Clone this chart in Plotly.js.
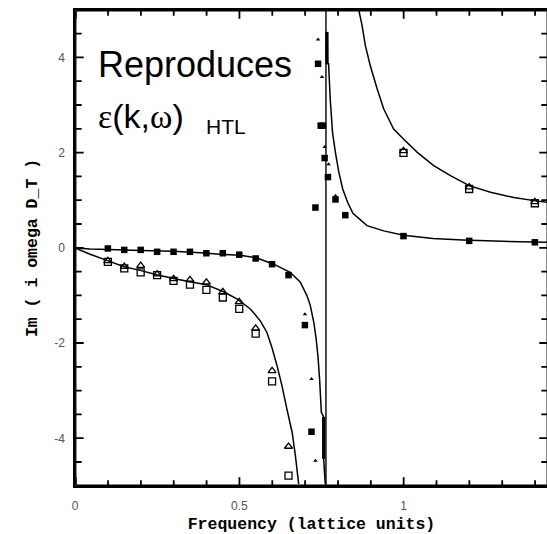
<!DOCTYPE html>
<html>
<head>
<meta charset="utf-8">
<script src="https://cdn.plot.ly/plotly-3.0.1.min.js"></script>
<style>
html,body{margin:0;padding:0;overflow:hidden;background:#fff;}
#chart{width:560px;height:534px;}
</style>
</head>
<body>
<div id="chart"></div>
<script>
// ---- data ----
var poleX = [0.764, 0.764];
var poleY = [-5, 5];

// lower theory curve (left branch)
var curveA_leftX = [0, 0.046, 0.10, 0.20, 0.30, 0.381, 0.442, 0.503, 0.554, 0.605, 0.655, 0.686, 0.706, 0.716, 0.727, 0.734, 0.740, 0.745, 0.750, 0.757, 0.757, 0.762];
var curveA_leftY = [0, -0.02, -0.03, -0.05, -0.07, -0.10, -0.13, -0.15, -0.21, -0.34, -0.51, -0.72, -1.00, -1.20, -1.56, -1.90, -2.30, -2.80, -3.45, -3.55, -4.43, -4.96];
// lower theory curve (right branch)
var curveA_rightX = [0.768, 0.769, 0.772, 0.777, 0.784, 0.793, 0.803, 0.815, 0.830, 0.846, 0.889, 0.94, 1.00, 1.09, 1.18, 1.30, 1.44];
var curveA_rightY = [4.54, 3.87, 3.87, 3.13, 2.43, 2.00, 1.60, 1.24, 0.96, 0.73, 0.47, 0.36, 0.27, 0.20, 0.17, 0.14, 0.12];
// thick parts of the curve close to the pole
var barTopX = [0.767, 0.767];
var barTopY = [4.54, 3.87];
var barBotX = [0.757, 0.757];
var barBotY = [-3.55, -4.43];

// upper theory curve (left branch)
var curveB_leftX = [0, 0.046, 0.097, 0.147, 0.198, 0.249, 0.30, 0.35, 0.40, 0.452, 0.493, 0.534, 0.564, 0.584, 0.60, 0.615, 0.630, 0.645, 0.661, 0.671, 0.681];
var curveB_leftY = [0, -0.13, -0.26, -0.39, -0.47, -0.56, -0.64, -0.71, -0.77, -0.92, -1.07, -1.28, -1.53, -1.77, -2.10, -2.47, -2.89, -3.38, -3.87, -4.36, -4.96];
// upper theory curve (right branch)
var curveB_rightX = [0.864, 0.874, 0.884, 0.899, 0.92, 0.94, 0.97, 1.00, 1.042, 1.092, 1.143, 1.20, 1.265, 1.336, 1.402, 1.44];
var curveB_rightY = [5.0, 4.67, 4.25, 3.83, 3.34, 2.92, 2.50, 2.29, 2.01, 1.73, 1.52, 1.31, 1.17, 1.06, 0.99, 0.96];

// filled squares
var sqFilledX = [0.10, 0.15, 0.20, 0.25, 0.30, 0.35, 0.40, 0.45, 0.50, 0.55, 0.60, 0.65, 0.70, 0.72, 0.732, 0.74, 0.748, 0.755, 0.76, 0.77, 0.793, 0.823, 1.0, 1.2, 1.4];
var sqFilledY = [-0.01, -0.04, -0.04, -0.08, -0.08, -0.08, -0.11, -0.11, -0.14, -0.22, -0.34, -0.57, -1.62, -3.86, 0.85, 3.87, 2.57, 2.57, 1.89, 1.49, 1.02, 0.69, 0.25, 0.15, 0.12];
// small filled triangles
var triSmallX = [0.70, 0.72, 0.732, 0.74, 0.752, 0.76, 0.772, 0.793];
var triSmallY = [-1.39, -2.75, -4.47, 4.38, 3.59, 2.12, 1.76, 1.10];
// open triangles
var triOpenX = [0.10, 0.15, 0.20, 0.25, 0.30, 0.35, 0.40, 0.45, 0.50, 0.55, 0.60, 0.65, 1.0, 1.2, 1.4];
var triOpenY = [-0.27, -0.39, -0.37, -0.55, -0.65, -0.67, -0.72, -0.92, -1.13, -1.69, -2.58, -4.17, 2.04, 1.28, 0.97];
// open squares
var sqOpenX = [0.10, 0.15, 0.20, 0.25, 0.30, 0.35, 0.40, 0.45, 0.50, 0.55, 0.60, 0.65, 1.0, 1.2, 1.4];
var sqOpenY = [-0.29, -0.43, -0.51, -0.57, -0.69, -0.77, -0.88, -1.04, -1.28, -1.80, -2.80, -4.78, 2.00, 1.24, 0.94];

// tick positions and labels
var xMajorTicks = [0, 0.5, 1];
var xTickLabels = ['0', '0.5', '1'];
var xMinorTicks = [0.1, 0.2, 0.3, 0.4, 0.6, 0.7, 0.8, 0.9, 1.1, 1.2, 1.3, 1.4];
var yMajorTicks = [-4, -2, 0, 2, 4];
var yTickLabels = ['-4', '-2', '0', '2', '4'];
var yMinorTicks = [-4.5, -3.5, -3, -2.5, -1.5, -1, -0.5, 0.5, 1, 1.5, 2.5, 3, 3.5, 4.5];

var xRange = [0, 1.44];
var yRange = [-5, 5];

var W = 560, H = 534;
var M = {l: 75, r: 12, t: 10, b: 48.3};
var plotW = W - M.l - M.r, plotH = H - M.t - M.b;
var xPerPx = (xRange[1] - xRange[0]) / plotW;
var yPerPx = (yRange[1] - yRange[0]) / plotH;

function line(x, y, w) {
  return {x: x, y: y, type: 'scatter', mode: 'lines', line: {color: 'black', width: w, simplify: false}, hoverinfo: 'skip', showlegend: false};
}
function pts(x, y, sym, size, lw) {
  return {x: x, y: y, type: 'scatter', mode: 'markers', showlegend: false, hoverinfo: 'skip',
    marker: {symbol: sym, size: size, color: 'black', line: {color: 'black', width: lw}}};
}

// frame with inward tick spikes, drawn as one continuous path just inside the plot edges
var fx0 = xRange[0] + 0.75 * xPerPx, fx1 = xRange[1] - 0.75 * xPerPx;
var fy0 = yRange[0] + 0.75 * yPerPx, fy1 = yRange[1] - 0.75 * yPerPx;
var xTicks = xMajorTicks.map(function (v) { return [v, 8]; })
  .concat(xMinorTicks.map(function (v) { return [v, 5]; }))
  .sort(function (a, b) { return a[0] - b[0]; });
var yTicks = yMajorTicks.map(function (v) { return [v, 8]; })
  .concat(yMinorTicks.map(function (v) { return [v, 6]; }))
  .sort(function (a, b) { return a[0] - b[0]; });
var ex = 0.4 * xPerPx, ey = 0.4 * yPerPx;
var frameX = [fx0], frameY = [fy0];
// bottom edge, left to right
xTicks.forEach(function (t) {
  var v = Math.max(t[0], fx0), d = (t[1] - 0.75) * yPerPx;
  frameX.push(v, v, v + ex, v + ex); frameY.push(fy0, fy0 + d, fy0 + d, fy0);
});
frameX.push(fx1); frameY.push(fy0);
// right edge, bottom to top
yTicks.forEach(function (t) {
  var v = t[0], d = (t[1] - 0.75) * xPerPx;
  frameX.push(fx1, fx1 - d, fx1 - d, fx1); frameY.push(v, v, v + ey, v + ey);
});
frameX.push(fx1); frameY.push(fy1);
// top edge, right to left
xTicks.slice().reverse().forEach(function (t) {
  var v = Math.max(t[0], fx0), d = (t[1] - 0.75) * yPerPx;
  frameX.push(v + ex, v + ex, v, v); frameY.push(fy1, fy1 - d, fy1 - d, fy1);
});
frameX.push(fx0); frameY.push(fy1);
// left edge, top to bottom
yTicks.slice().reverse().forEach(function (t) {
  var v = t[0], d = (t[1] - 0.75) * xPerPx;
  frameX.push(fx0, fx0 + d, fx0 + d, fx0); frameY.push(v + ey, v + ey, v, v);
});
frameX.push(fx0); frameY.push(fy0);

var traces = [
  line(frameX, frameY, 1.4),
  line(poleX, poleY, 1.4),
  line(curveA_leftX, curveA_leftY, 1.5),
  line(curveA_rightX, curveA_rightY, 1.5),
  line(barTopX, barTopY, 3.2),
  line(barBotX, barBotY, 3.2),
  line(curveB_leftX, curveB_leftY, 1.5),
  line(curveB_rightX, curveB_rightY, 1.5),
  pts(sqOpenX, sqOpenY, 'square-open', 7, 1.3),
  pts(triOpenX, triOpenY, 'triangle-up-open', 7, 1.3),
  pts(sqFilledX, sqFilledY, 'square', 6.5, 0),
  pts(triSmallX, triSmallY, 'triangle-up', 4, 0)
];

var tickFont = {family: 'Liberation Sans, Arial, sans-serif', size: 12, color: '#555'};
var titleFont = {family: 'Liberation Mono, Courier New, monospace', size: 16.5, color: 'black', weight: 'bold'};

var layout = {
  width: W, height: H,
  margin: M,
  paper_bgcolor: 'white', plot_bgcolor: 'white',
  showlegend: false,
  xaxis: {
    range: xRange, showgrid: false, zeroline: false,
    showline: true, linecolor: 'black', linewidth: 1.5, mirror: true,
    ticks: 'inside', ticklen: 8, tickcolor: 'black', tickwidth: 1.3,
    tickmode: 'array', tickvals: xMajorTicks, ticktext: xTickLabels,
    tickfont: tickFont, ticklabelstandoff: 8,
    title: {text: 'Frequency (lattice units)', font: titleFont, standoff: 8}
  },
  yaxis: {
    range: yRange, showgrid: false, zeroline: false,
    showline: true, linecolor: 'black', linewidth: 1.5, mirror: true,
    ticks: 'inside', ticklen: 8, tickcolor: 'black', tickwidth: 1.3,
    tickmode: 'array', tickvals: yMajorTicks, ticktext: yTickLabels,
    tickfont: tickFont, ticklabelstandoff: 6,
    title: {text: 'Im ( i omega D_T )', font: titleFont, standoff: 12}
  },
  annotations: [
    {xref: 'paper', yref: 'paper', x: 0.044, y: 0.885, xanchor: 'left', yanchor: 'middle', showarrow: false,
     text: 'Reproduces', font: {family: 'Liberation Sans, Arial, sans-serif', size: 36, color: 'black'}},
    {xref: 'paper', yref: 'paper', x: 0.044, y: 0.777, xanchor: 'left', yanchor: 'middle', showarrow: false,
     text: '<span style="font-family:Liberation Serif">ε</span>(k,<span style="font-family:Liberation Serif">ω</span>)',
     font: {family: 'Liberation Sans, Arial, sans-serif', size: 34, color: 'black'}},
    {xref: 'paper', yref: 'paper', x: 0.272, y: 0.755, xanchor: 'left', yanchor: 'middle', showarrow: false,
     text: 'HTL', font: {family: 'Liberation Sans, Arial, sans-serif', size: 21, color: 'black'}}
  ]
};

Plotly.newPlot('chart', traces, layout, {displayModeBar: false});
</script>
</body>
</html>
